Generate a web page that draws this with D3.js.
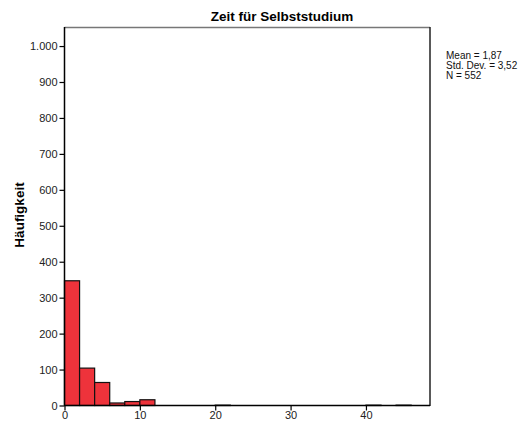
<!DOCTYPE html>
<html><head><meta charset="utf-8">
<script src="https://cdn.jsdelivr.net/npm/d3@7"></script>
<style>body{margin:0;background:#fff}svg{display:block}text{font-family:Arial,"Liberation Sans",sans-serif}</style>
</head><body>
<script>
const binStarts = [0, 2, 4, 6, 8, 10, 20, 40, 44];
const binWidth = 2;
const counts = [347, 104, 64, 7, 11, 16, 1, 1, 1];
const yTicks = [0, 100, 200, 300, 400, 500, 600, 700, 800, 900, 1000];
const xTicks = [0, 10, 20, 30, 40];
const title = "Zeit für Selbststudium";
const yLabel = "Häufigkeit";
const stats = ["Mean = 1,87", "Std. Dev. = 3,52", "N = 552"];

const W = 518, H = 421;
const svg = d3.select("body").append("svg").attr("width", W).attr("height", H);
const x = d3.scaleLinear().domain([0, 48.5]).range([64.5, 430]);
const y = d3.scaleLinear().domain([0, 1053]).range([405.5, 27]);

// frame top/right
svg.append("line").attr("x1", 64.5).attr("x2", 430).attr("y1", 27.5).attr("y2", 27.5).attr("stroke", "#777").attr("stroke-width", 1.5);
svg.append("line").attr("x1", 430).attr("x2", 430).attr("y1", 27).attr("y2", 406).attr("stroke", "#222").attr("stroke-width", 1.5);

// bars
svg.append("g").selectAll("rect").data(binStarts).join("rect")
  .attr("x", d => x(d))
  .attr("width", d => x(d + binWidth) - x(d))
  .attr("y", (d, i) => y(counts[i]))
  .attr("height", (d, i) => y(0) - y(counts[i]))
  .attr("fill", "#ee333b").attr("stroke", "#111").attr("stroke-width", 1.2);

const fmt = d => d >= 1000 ? d3.format(",")(d).replace(/,/g, ".") : String(d);
const yAxis = svg.append("g").attr("transform", "translate(64.5,0)")
  .call(d3.axisLeft(y).tickValues(yTicks).tickFormat(fmt).tickSize(5).tickPadding(2));
yAxis.select(".domain").attr("d", "M0,27V405.5").attr("stroke", "#000").attr("stroke-width", 1.5);
yAxis.selectAll(".tick line").attr("stroke", "#000").attr("stroke-width", 1.2);
yAxis.selectAll("text").attr("font-size", 11).attr("fill", "#222").attr("font-family", "Arial, 'Liberation Sans', sans-serif");

const xAxis = svg.append("g").attr("transform", "translate(0,405.5)")
  .call(d3.axisBottom(x).tickValues(xTicks).tickFormat(d => d).tickSize(5).tickPadding(1));
xAxis.select(".domain").attr("d", "M64.5,0H430").attr("stroke", "#000").attr("stroke-width", 1.5);
xAxis.selectAll(".tick line").attr("stroke", "#000").attr("stroke-width", 1.2);
xAxis.selectAll("text").attr("font-size", 11).attr("fill", "#222").attr("font-family", "Arial, 'Liberation Sans', sans-serif");

svg.append("text").attr("x", 282).attr("y", 21).attr("text-anchor", "middle")
  .attr("font-size", 13.5).attr("font-weight", "bold").text(title);

svg.append("text").attr("transform", "translate(24,215) rotate(-90)").attr("text-anchor", "middle")
  .attr("font-size", 13.5).attr("font-weight", "bold").text(yLabel);

svg.append("g").selectAll("text").data(stats).join("text")
  .attr("x", 446).attr("y", (d, i) => 59 + i * 9.8)
  .attr("font-size", 10).attr("fill", "#111").text(d => d);
</script>
</body></html>
